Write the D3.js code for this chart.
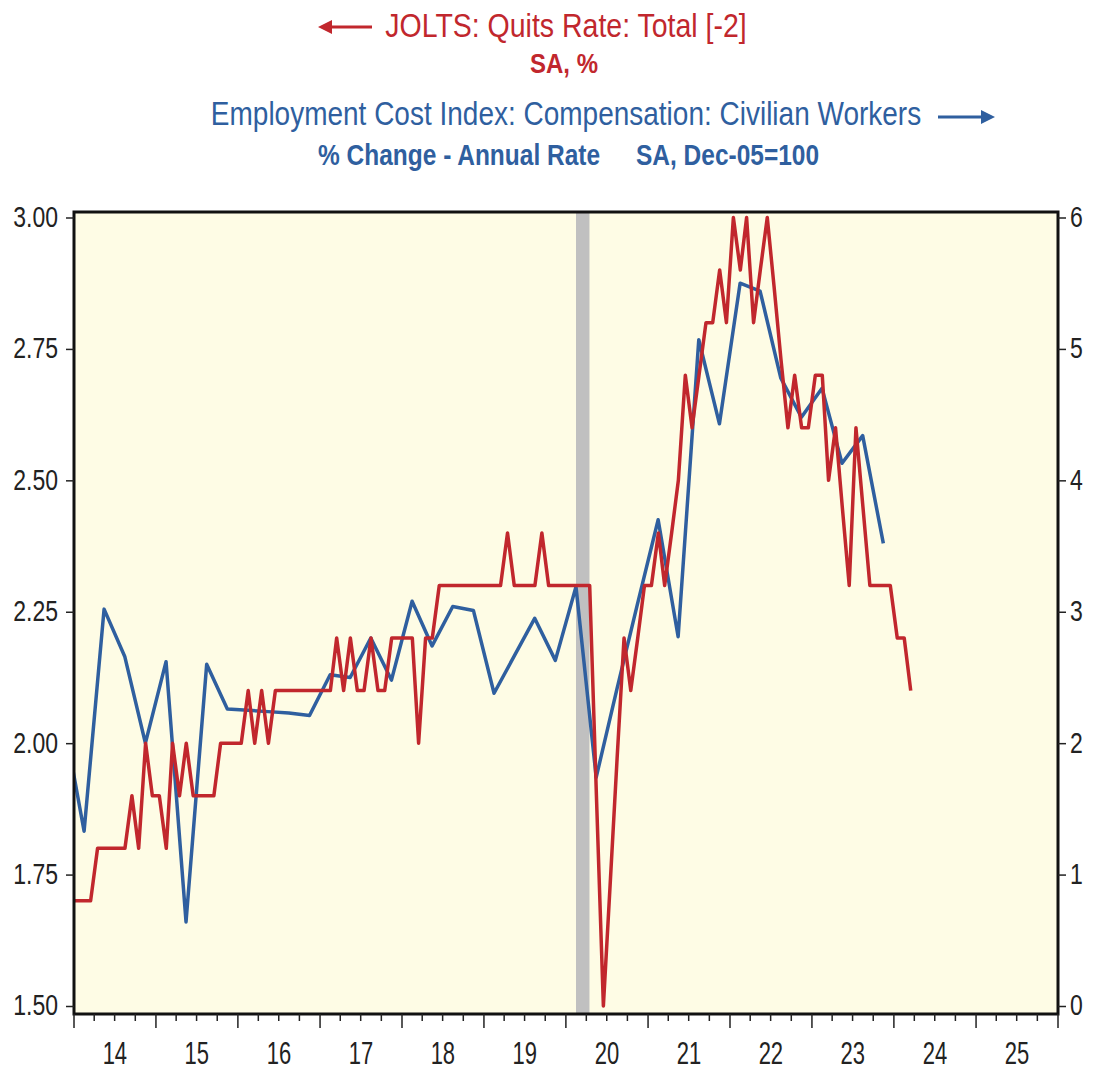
<!DOCTYPE html>
<html><head><meta charset="utf-8">
<script src="https://cdn.jsdelivr.net/npm/d3@7"></script>
<style>body{margin:0;background:#fff}svg{display:block}text{font-family:"Liberation Sans",Arial,sans-serif}</style>
</head><body><svg id="c" width="1097" height="1079"></svg>
<script>
// ---- data ----
const quitsStart = [2013, 11]; // Dec 2013 (year, month index)
const quitsRate = [1.7,
  1.7,1.7,1.7,1.8,1.8,1.8,1.8,1.8,1.9,1.8,2.0,1.9,
  1.9,1.8,2.0,1.9,2.0,1.9,1.9,1.9,1.9,2.0,2.0,2.0,
  2.0,2.1,2.0,2.1,2.0,2.1,2.1,2.1,2.1,2.1,2.1,2.1,
  2.1,2.1,2.2,2.1,2.2,2.1,2.1,2.2,2.1,2.1,2.2,2.2,
  2.2,2.2,2.0,2.2,2.2,2.3,2.3,2.3,2.3,2.3,2.3,2.3,
  2.3,2.3,2.3,2.4,2.3,2.3,2.3,2.3,2.4,2.3,2.3,2.3,
  2.3,2.3,2.3,2.3,1.9,1.5,1.73,1.97,2.2,2.1,2.2,2.3,
  2.3,2.4,2.3,2.4,2.5,2.7,2.6,2.7,2.8,2.8,2.9,2.8,
  3.0,2.9,3.0,2.8,2.9,3.0,2.87,2.73,2.6,2.7,2.6,2.6,
  2.7,2.7,2.5,2.6,2.45,2.3,2.6,2.45,2.3,2.3,2.3,2.3,
  2.2,2.2,2.1];
const eciStart = [2013, 10]; // 2013 Q4, plotted mid-quarter
const eciChange = [2.19,
  1.33,3.02,2.66,2.00, 2.62,0.64,2.60,2.26, 2.25,2.24,2.23,2.21,
  2.52,2.50,2.80,2.48, 3.08,2.74,3.04,3.01, 2.38,2.66,2.95,2.63,
  3.19,1.74,2.41,3.06, 3.70,2.81,5.07,4.43, 5.50,5.44,4.78,4.48,
  4.70,4.13,4.34,3.52];
const recession = [[2020, 1, 15], [2020, 3, 15]];
const yearLabels = ["14","15","16","17","18","19","20","21","22","23","24","25"];
const leftTicks = [1.5, 1.75, 2.0, 2.25, 2.5, 2.75, 3.0];
const rightTicks = [0, 1, 2, 3, 4, 5, 6];

// ---- layout ----
const RED = "#c1272d", BLUE = "#2f5f9f";
const svg = d3.select("#c");
const L = 74, R = 1058, T = 212, B = 1014;
const x = d3.scaleTime().domain([new Date(2014,0,1), new Date(2026,0,1)]).range([L, R]);
const yL = d3.scaleLinear().domain([1.5, 3.0]).range([1006, 217.5]);
const yR = d3.scaleLinear().domain([0, 6]).range([1006, 217.5]);

svg.append("defs").append("clipPath").attr("id","clip")
  .append("rect").attr("x",L).attr("y",T).attr("width",R-L).attr("height",B-T);

svg.append("rect").attr("x",L).attr("y",T).attr("width",R-L).attr("height",B-T)
  .attr("fill","#fefce5");

const g = svg.append("g").attr("clip-path","url(#clip)");
g.append("rect")
  .attr("x", x(new Date(...recession[0])))
  .attr("width", x(new Date(...recession[1])) - x(new Date(...recession[0])))
  .attr("y", T).attr("height", B-T).attr("fill","#c0c0c0");

const quits = quitsRate.map((v,i)=>({d:new Date(quitsStart[0], quitsStart[1]+i, 16), v}));
const eci = eciChange.map((v,i)=>({d:new Date(eciStart[0], eciStart[1]+3*i, 15), v}));

g.append("path").datum(eci).attr("fill","none").attr("stroke",BLUE).attr("stroke-width",3.5)
  .attr("stroke-linejoin","round")
  .attr("d", d3.line().x(d=>x(d.d)).y(d=>yR(d.v)));
g.append("path").datum(quits).attr("fill","none").attr("stroke",RED).attr("stroke-width",3.5)
  .attr("stroke-linejoin","round")
  .attr("d", d3.line().x(d=>x(d.d)).y(d=>yL(d.v)));

// frame
svg.append("rect").attr("x",L).attr("y",T).attr("width",R-L).attr("height",B-T)
  .attr("fill","none").attr("stroke","#111").attr("stroke-width",3);

// left axis
const ax = svg.append("g").attr("transform",`translate(${L},0)`)
  .call(d3.axisLeft(yL).tickValues(leftTicks).tickFormat(d3.format(".2f")).tickSize(8).tickPadding(8));
ax.select(".domain").remove();
ax.selectAll("line").attr("stroke","#222").attr("stroke-width",1.5);
ax.selectAll("text").attr("font-size",23).attr("fill","#222").attr("transform","scale(1,1.3)")
  .attr("dy","0.3em");

const axr = svg.append("g").attr("transform",`translate(${R},0)`)
  .call(d3.axisRight(yR).tickValues(rightTicks).tickFormat(d3.format("d")).tickSize(8).tickPadding(4));
axr.select(".domain").remove();
axr.selectAll("line").attr("stroke","#222").attr("stroke-width",1.5);
axr.selectAll("text").attr("font-size",23).attr("fill","#222").attr("transform","scale(1,1.3)")
  .attr("dy","0.3em");

// x axis ticks
const years = d3.timeYear.range(new Date(2014,0,1), new Date(2026,0,2));
const quarters = d3.timeMonth.every(3).range(new Date(2014,0,1), new Date(2026,0,1)).filter(d=>d.getMonth()!==0);
const xt = svg.append("g");
xt.selectAll("line.maj").data(years).join("line")
  .attr("x1",d=>x(d)).attr("x2",d=>x(d)).attr("y1",B).attr("y2",B+14)
  .attr("stroke","#222").attr("stroke-width",1.5);
xt.selectAll("line.min").data(quarters).join("line")
  .attr("x1",d=>x(d)).attr("x2",d=>x(d)).attr("y1",B).attr("y2",B+7)
  .attr("stroke","#222").attr("stroke-width",1.5);
xt.selectAll("text").data(yearLabels).join("text")
  .attr("text-anchor","middle").attr("font-size",22).attr("fill","#222")
  .attr("transform",(d,i)=>`translate(${x(new Date(2014+i,6,2))},1064) scale(1,1.45)`)
  .text(d=>d);

// titles
function txt(s, xx, yy, size, color, weight, anchor, sy){
  svg.append("text").attr("transform",`translate(${xx},${yy}) scale(1,${sy})`)
    .attr("font-size",size).attr("fill",color).attr("font-weight",weight)
    .attr("text-anchor",anchor).text(s);
}
txt("JOLTS: Quits Rate: Total [-2]", 566, 37, 28.5, RED, "normal", "middle", 1.18);
txt("SA, %", 564, 73, 24, RED, "bold", "middle", 1.18);
txt("Employment Cost Index: Compensation: Civilian Workers", 566, 125, 28, BLUE, "normal", "middle", 1.18);
txt("% Change - Annual Rate", 318, 165, 24.5, BLUE, "bold", "start", 1.18);
txt("SA, Dec-05=100", 636, 165, 24.5, BLUE, "bold", "start", 1.18);

// arrows
function arrow(x1, x2, yy, color){
  const dir = Math.sign(x2-x1);
  svg.append("line").attr("x1",x1).attr("x2",x2-dir*10).attr("y1",yy).attr("y2",yy)
    .attr("stroke",color).attr("stroke-width",3);
  svg.append("path").attr("d",`M${x2},${yy} L${x2-dir*14},${yy-7} L${x2-dir*14},${yy+7} Z`).attr("fill",color);
}
arrow(372, 318, 27, RED);
arrow(938, 995, 117, BLUE);
</script></body></html>
